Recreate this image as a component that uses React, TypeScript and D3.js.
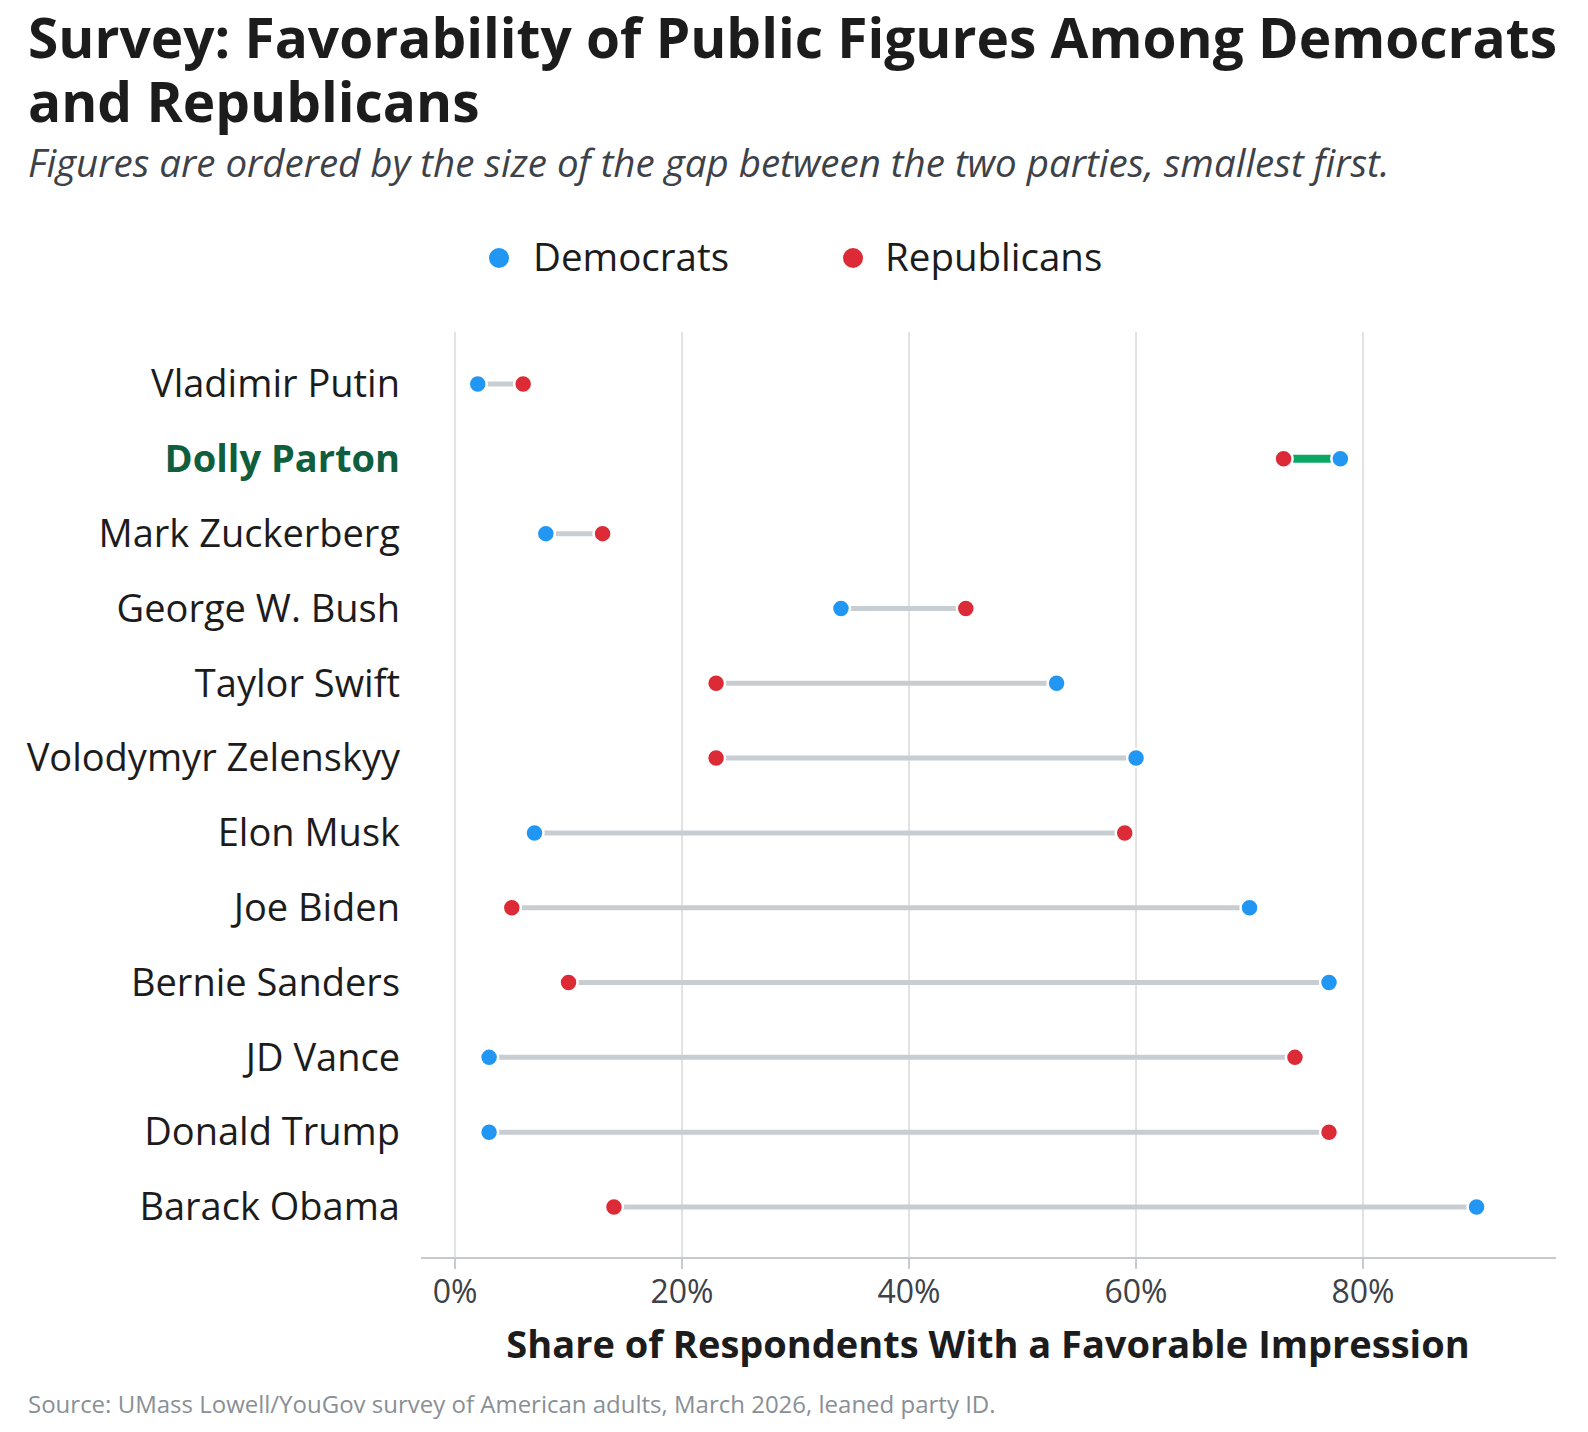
import * as d3 from "d3";

const figures = [
  "Vladimir Putin",
  "Dolly Parton",
  "Mark Zuckerberg",
  "George W. Bush",
  "Taylor Swift",
  "Volodymyr Zelenskyy",
  "Elon Musk",
  "Joe Biden",
  "Bernie Sanders",
  "JD Vance",
  "Donald Trump",
  "Barack Obama",
];
const demValues = [2, 78, 8, 34, 53, 60, 7, 70, 77, 3, 3, 90];
const repValues = [6, 73, 13, 45, 23, 23, 59, 5, 10, 74, 77, 14];
const highlight = "Dolly Parton";
const xTicks = [0, 20, 40, 60, 80];

const W = 1588;
const H = 1432;
const FONT = "'Open Sans', sans-serif";
const BLUE = "#2196f3";
const RED = "#dc2b37";
const GREEN = "#0aa865";
const DARK_GREEN = "#0f5e3e";

export default function App() {
  const x = d3.scaleLinear().domain([-3, 97]).range([421, 1556]);
  const y = d3.scalePoint<string>().domain(figures).range([384, 1207]);
  const rows = figures.map((name, i) => ({ name, dem: demValues[i], rep: repValues[i] }));

  return (
    <svg
      width={W}
      height={H}
      style={{ position: "absolute", left: 0, top: 0, background: "#fff", fontFamily: FONT }}
    >
      {/* title */}
      <text x={28} y={58} fontSize={55} fontWeight={700} fill="#1c1c1c">
        <tspan x={28}>Survey: Favorability of Public Figures Among Democrats</tspan>
        <tspan x={28} dy={64}>and Republicans</tspan>
      </text>
      <text x={28} y={177} fontSize={38.5} fontStyle="italic" fill="#3d4148">
        Figures are ordered by the size of the gap between the two parties, smallest first.
      </text>

      {/* legend */}
      <g fontSize={38.5} fill="#1c1c1c">
        <circle cx={499} cy={258} r={10} fill={BLUE} />
        <text x={533} y={258} dy="0.35em">Democrats</text>
        <circle cx={853} cy={258} r={10} fill={RED} />
        <text x={885} y={258} dy="0.35em">Republicans</text>
      </g>

      {/* grid */}
      {xTicks.map((t) => (
        <line key={t} x1={x(t)} x2={x(t)} y1={332} y2={1257} stroke="#e2e2e2" strokeWidth={2} />
      ))}

      {/* x axis */}
      <line x1={x.range()[0]} x2={x.range()[1]} y1={1258} y2={1258} stroke="#c6cacf" strokeWidth={2} />
      {xTicks.map((t) => (
        <g key={t}>
          <line x1={x(t)} x2={x(t)} y1={1258} y2={1269} stroke="#c6cacf" strokeWidth={2} />
          <text x={x(t)} y={1292} dy="0.35em" textAnchor="middle" fontSize={32} fill="#3d4148">
            {d3.format("d")(t)}%
          </text>
        </g>
      ))}
      <text x={988} y={1345} dy="0.35em" textAnchor="middle" fontSize={38} fontWeight={700} fill="#1c1c1c">
        Share of Respondents With a Favorable Impression
      </text>

      {/* rows */}
      {rows.map((d) => {
        const hl = d.name === highlight;
        const cy = y(d.name)!;
        return (
          <g key={d.name}>
            <text
              x={400}
              y={cy}
              dy="0.35em"
              textAnchor="end"
              fontSize={38}
              fontWeight={hl ? 700 : 400}
              fill={hl ? DARK_GREEN : "#1c1c1c"}
            >
              {d.name}
            </text>
            <line
              x1={x(d.dem)}
              x2={x(d.rep)}
              y1={cy}
              y2={cy}
              stroke={hl ? GREEN : "#c8cdd2"}
              strokeWidth={hl ? 8 : 5}
            />
            <circle cx={x(d.dem)} cy={cy} r={9} fill={BLUE} stroke="#fff" strokeWidth={2.5} />
            <circle cx={x(d.rep)} cy={cy} r={9} fill={RED} stroke="#fff" strokeWidth={2.5} />
          </g>
        );
      })}

      {/* source */}
      <text x={28} y={1405} dy="0.35em" fontSize={24} fill="#8a8f96">
        Source: UMass Lowell/YouGov survey of American adults, March 2026, leaned party ID.
      </text>
    </svg>
  );
}
